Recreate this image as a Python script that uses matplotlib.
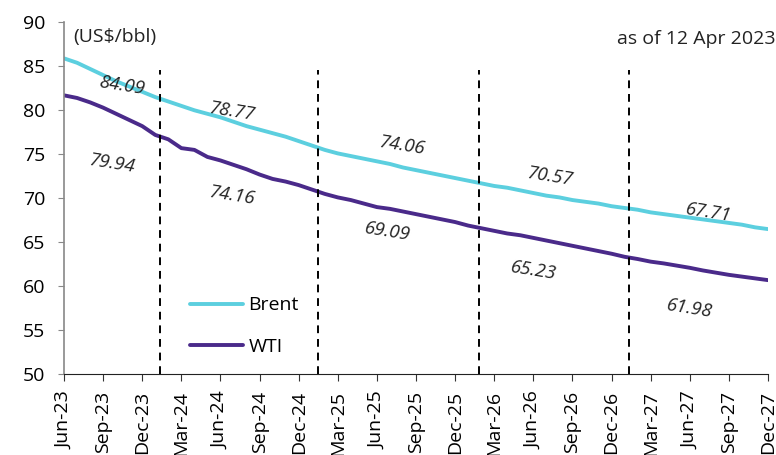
import matplotlib.pyplot as plt

plt.rcParams['font.family'] = ['Open Sans', 'DejaVu Sans']

# Monthly futures strip, Jun-23 .. Dec-27 (55 contracts)
brent = [85.9, 85.4, 84.7, 84.0, 83.3, 82.7, 82.1,
         81.5, 81.0, 80.5, 80.0, 79.6, 79.2, 78.7, 78.2, 77.8, 77.4, 77.0, 76.5,
         76.0, 75.5, 75.1, 74.8, 74.5, 74.2, 73.9, 73.5, 73.2, 72.9, 72.6, 72.3,
         72.0, 71.7, 71.4, 71.2, 70.9, 70.6, 70.3, 70.1, 69.8, 69.6, 69.4, 69.1,
         68.9, 68.7, 68.4, 68.2, 68.0, 67.8, 67.6, 67.4, 67.2, 67.0, 66.7, 66.5]
wti = [81.7, 81.4, 80.9, 80.3, 79.6, 78.9, 78.2,
       77.2, 76.7, 75.7, 75.5, 74.7, 74.3, 73.8, 73.3, 72.7, 72.2, 71.9, 71.5,
       71.0, 70.5, 70.1, 69.8, 69.4, 69.0, 68.8, 68.5, 68.2, 67.9, 67.6, 67.3,
       66.9, 66.6, 66.3, 66.0, 65.8, 65.5, 65.2, 64.9, 64.6, 64.3, 64.0, 63.7,
       63.35, 63.1, 62.8, 62.6, 62.35, 62.1, 61.8, 61.55, 61.3, 61.1, 60.9, 60.7]

tick_labels = ['Jun-23', 'Sep-23', 'Dec-23', 'Mar-24', 'Jun-24', 'Sep-24',
               'Dec-24', 'Mar-25', 'Jun-25', 'Sep-25', 'Dec-25', 'Mar-26',
               'Jun-26', 'Sep-26', 'Dec-26', 'Mar-27', 'Jun-27', 'Sep-27',
               'Dec-27']

# yearly averages printed on the chart
brent_avg = ['84.09', '78.77', '74.06', '70.57', '67.71']
wti_avg = ['79.94', '74.16', '69.09', '65.23', '61.98']

# where the year separators and the average labels sit (month index, price)
year_breaks = [7.4, 19.5, 31.8, 43.3]
brent_lbl_pos = [(4.4, 82.8), (12.9, 79.8), (25.9, 76.0), (37.3, 72.4), (49.4, 68.4)]
wti_lbl_pos = [(3.7, 73.9), (12.9, 70.3), (24.8, 66.2), (36.0, 61.8), (48.0, 57.5)]

fig = plt.figure(figsize=(7.76, 4.55), dpi=100)
ax = fig.add_axes([0.0825, 0.1774, 0.9072, 0.7736])

x = list(range(len(brent)))
ax.plot(x, brent, color='#5ccfdf', lw=2.8, label='Brent', solid_capstyle='round')
ax.plot(x, wti, color='#4a2a8a', lw=2.8, label='WTI', solid_capstyle='round')

for xb in year_breaks:
    ax.plot([xb, xb], [50, 84.6], color='black', lw=1.4, ls=(0, (4, 3)))

for (px, py), t in zip(brent_lbl_pos, brent_avg):
    ax.text(px, py, t, ha='center', va='center', rotation=-9,
            fontsize=13.5, style='italic', color='#222222')
for (px, py), t in zip(wti_lbl_pos, wti_avg):
    ax.text(px, py, t, ha='center', va='center', rotation=-9,
            fontsize=13.5, style='italic', color='#222222')

ax.set_xlim(0, len(brent) - 1)
ax.set_ylim(50, 90)
ax.set_yticks(range(50, 91, 5))
ax.set_xticks(range(0, len(brent), 3))
ax.set_xticklabels(tick_labels, rotation=90, va='top', ha='center')

ax.tick_params(axis='y', labelsize=14, length=4.5, color='#888888', pad=9)
ax.tick_params(axis='x', labelsize=14, length=5, color='#333333', pad=7)
for s in ['top', 'right']:
    ax.spines[s].set_visible(False)
ax.spines['left'].set_color('#888888')
ax.spines['left'].set_linewidth(1.2)
ax.spines['bottom'].set_color('#222222')

ax.text(0.013, 0.985, '(US$/bbl)', transform=ax.transAxes, ha='left', va='top',
        fontsize=14, color='#222222')
fig.text(0.999, 0.915, 'as of 12 Apr 2023', ha='right', va='center',
         fontsize=14, color='#222222')

ax.legend(loc='center left', bbox_to_anchor=(0.179, 0.137), frameon=False,
          fontsize=14, handlelength=2.7, handletextpad=0.3, labelspacing=1.2,
          borderpad=0, borderaxespad=0)

fig.savefig('out.png', dpi=100)
